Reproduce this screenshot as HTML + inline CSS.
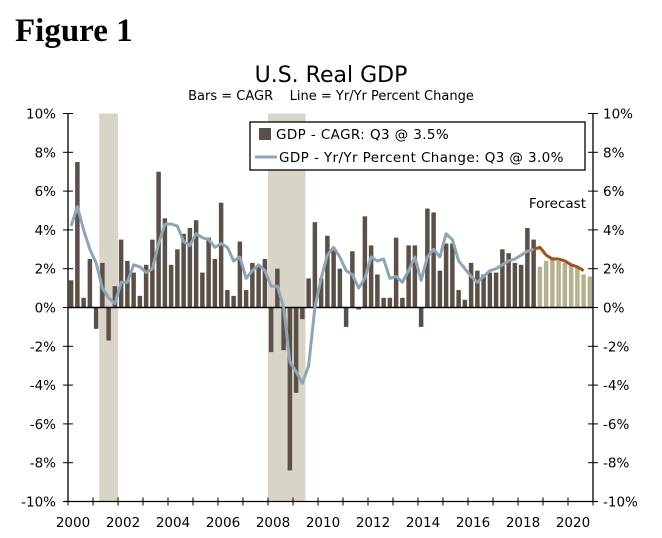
<!DOCTYPE html>
<html><head><meta charset="utf-8"><style>
body{margin:0;background:#fff;width:662px;height:538px;overflow:hidden}
svg{display:block;font-family:"DejaVu Sans","Liberation Sans",sans-serif}
</style></head><body>
<svg id="c" width="662" height="538">
<text x="15" y="41" font-family="Liberation Serif,serif" font-weight="bold" font-size="33">Figure 1</text>
<text x="331" y="82" text-anchor="middle" font-size="22">U.S. Real GDP</text>
<text x="331" y="100" text-anchor="middle" font-size="13">Bars = CAGR &#160;&#160;&#160;Line = Yr/Yr Percent Change</text>
<g id="g"></g>
</svg>
<script>
const years=[2000,2002,2004,2006,2008,2010,2012,2014,2016,2018,2020];
const yTicks=[10,8,6,4,2,0,-2,-4,-6,-8,-10];
const recessions=[[2001.25,2002.0],[2008.0,2009.5]];
const cagr=[1.4,7.5,0.5,2.5,-1.1,2.3,-1.7,1.1,3.5,2.4,1.8,0.6,2.2,3.5,7.0,4.6,2.2,3.0,3.8,4.1,4.5,1.8,3.6,2.5,5.4,0.9,0.6,3.4,0.9,2.3,2.2,2.5,-2.3,2.0,-2.2,-8.4,-4.4,-0.6,1.5,4.4,1.5,3.7,3.0,2.0,-1.0,2.9,-0.1,4.7,3.2,1.7,0.5,0.5,3.6,0.5,3.2,3.2,-1.0,5.1,4.9,1.9,3.3,3.3,0.9,0.4,2.3,1.9,1.7,1.8,1.8,3.0,2.8,2.3,2.2,4.1,3.5];
const cagrForecast=[2.1,2.4,2.6,2.4,2.3,2.2,2.1,1.7,1.6];
const yoy=[4.2,5.2,4.0,3.0,2.3,1.0,0.5,0.2,1.3,1.3,2.2,2.1,1.8,2.0,3.3,4.3,4.3,4.2,3.4,3.2,3.8,3.6,3.5,3.1,3.3,3.1,2.4,2.6,1.5,1.9,2.2,1.9,1.1,1.1,0.0,-2.8,-3.3,-3.9,-3.0,0.0,1.5,2.7,3.1,2.6,1.9,1.7,1.0,1.5,2.6,2.4,2.5,1.5,1.6,1.3,1.9,2.6,1.4,2.6,3.0,2.6,3.8,3.5,2.4,2.0,1.6,1.3,1.6,1.9,2.0,2.2,2.4,2.5,2.7,2.9,3.0];
const yoyForecast=[3.0,3.1,2.7,2.5,2.5,2.4,2.2,2.1,1.9];
const X0=68,X1=593,Y0=307.5,PP=19.4,N=84,QW=(X1-X0)/N;
const xq=i=>X0+(i+0.5)*QW, xy=y=>X0+(y-2000)*4*QW, yv=v=>Y0-v*PP;
const g=document.getElementById('g'),NS='http://www.w3.org/2000/svg';
function mk(t,a,p){const e=document.createElementNS(NS,t);for(const k in a)e.setAttribute(k,a[k]);(p||g).appendChild(e);return e;}
recessions.forEach(r=>{const e=mk('rect',{x:xy(r[0]),y:yv(10),width:xy(r[1])-xy(r[0]),height:yv(-10)-yv(10),fill:'#d8d4c8'});

});
const bw=QW*0.72;
cagr.forEach((v,i)=>{const e=mk('rect',{x:xq(i)-bw/2,y:Math.min(yv(v),Y0),width:bw,height:Math.abs(v*PP),fill:'#5b5047'});

});
cagrForecast.forEach((v,j)=>{const i=cagr.length+j;const e=mk('rect',{x:xq(i)-bw/2,y:Math.min(yv(v),Y0),width:bw,height:Math.abs(v*PP),fill:'#b5b08e'});

});
let z=mk('line',{x1:X0,x2:X1,y1:Y0,y2:Y0,stroke:'#000','stroke-width':1.5});


let l1=mk('polyline',{points:yoy.map((v,i)=>xq(i)+','+yv(v)).join(' '),fill:'none',stroke:'#8fa5b3','stroke-width':3,'stroke-linejoin':'round'});


const fp=[[xq(yoy.length-1),yv(yoy[yoy.length-1])]].concat(yoyForecast.slice(1).map((v,j)=>[xq(yoy.length+j),yv(v)]));
let l2=mk('polyline',{points:fp.map(p=>p.join(',')).join(' '),fill:'none',stroke:'#a0541a','stroke-width':3,'stroke-linejoin':'round'});


[[X0,X0],[X1,X1]].forEach((a,k)=>{const e=mk('line',{x1:a[0],x2:a[1],y1:yv(10),y2:yv(-10),stroke:'#000','stroke-width':1.3});

});
let xa=mk('line',{x1:X0-4,x2:X1+4,y1:yv(-10),y2:yv(-10),stroke:'#000','stroke-width':1.3});


yTicks.forEach(t=>{const y=yv(t);
mk('line',{x1:X0-5,x2:X0+5,y1:y,y2:y,stroke:'#000'});mk('line',{x1:X1-5,x2:X1+5,y1:y,y2:y,stroke:'#000'});
const a=mk('text',{x:X0-12,y:y+5,'text-anchor':'end','font-size':13.5});a.textContent=t+'%';


const b=mk('text',{x:X1+10,y:y+5,'font-size':13.5});b.textContent=t+'%';

});
for(let y=2000;y<=2021;y++){const x=xy(y);mk('line',{x1:x,x2:x,y1:yv(-10)-4,y2:yv(-10)+4,stroke:'#000'});}
years.forEach(y=>{const t=mk('text',{x:xy(y)+5,y:527,'text-anchor':'middle','font-size':13.5});t.textContent=y;

});
const lg=mk('g',{});


mk('rect',{x:250,y:122,width:335,height:48,fill:'#fff',stroke:'#000','stroke-width':1.3},lg);
mk('rect',{x:259,y:128,width:12,height:12,fill:'#5b5047'},lg);
let t1=mk('text',{x:276,y:139,'font-size':13.5,'letter-spacing':0.4},lg);t1.textContent='GDP - CAGR: Q3 @ 3.5%';


mk('line',{x1:255,x2:277,y1:157,y2:157,stroke:'#8fa5b3','stroke-width':3},lg);
let t2=mk('text',{x:279,y:162,'font-size':13.5,'letter-spacing':0.4},lg);t2.textContent='GDP - Yr/Yr Percent Change: Q3 @ 3.0%';


let fc=mk('text',{x:586,y:208,'text-anchor':'end','font-size':13.5});fc.textContent='Forecast';


</script>
</body></html>
